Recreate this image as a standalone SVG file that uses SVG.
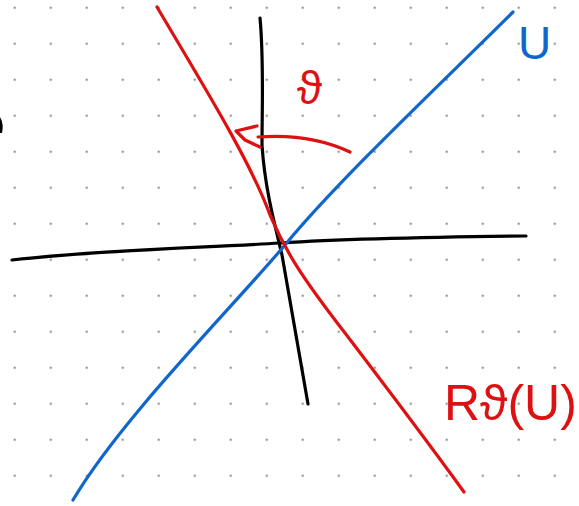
<svg xmlns="http://www.w3.org/2000/svg" width="579" height="506" viewBox="0 0 579 506">
<defs>
<pattern id="dots" x="13.5" y="6.5" width="36" height="36" patternUnits="userSpaceOnUse">
<rect x="0.5" y="0.5" width="1.6" height="1.6" fill="#444"/>
</pattern>
<style>
.ln{fill:none;stroke-width:3.2;stroke-linecap:round;stroke-linejoin:round}
.k{stroke:#000}.r{stroke:#dd1111}.b{stroke:#1166cc}
.t{font-family:"Liberation Sans",sans-serif}
</style>
</defs>
<rect width="579" height="506" fill="#fff"/>
<rect width="579" height="506" fill="url(#dots)"/>
<path d="M0,117 Q4,124 2,133 L0,133 Z" fill="#000"/>
<g id="connectors">
<path id="yaxis" class="ln k" d="M260,18 C264,60 262,110 262,145 C265,190 275,225 282,255 C292,310 300,360 308,404"/>
<path id="xaxis" class="ln k" d="M12,260 C100,250 200,248 280,243 C360,238 440,237 526,236"/>
<path id="lineU" class="ln b" d="M513,12 C450,75 340,178 285,245 C230,310 120,420 73,500"/>
<path id="lineR" class="ln r" d="M157,7 C200,80 250,160 270,215 C285,250 300,275 345,333 C390,392 430,445 464,492"/>
<path id="arc" class="ln r" d="M350,152 Q310,133 258,137 M257,126 L236,131 L245,140 L260,147"/>
</g>
<g id="label-theta"><text class="t" x="297" y="104" font-size="46" fill="#dd1111">ϑ</text></g>
<g id="label-U"><text class="t" x="518" y="59" font-size="46" fill="#1166cc">U</text></g>
<g id="label-RU"><text class="t" x="444" y="420" font-size="50" fill="#dd1111">Rϑ(U)</text></g>
</svg>
